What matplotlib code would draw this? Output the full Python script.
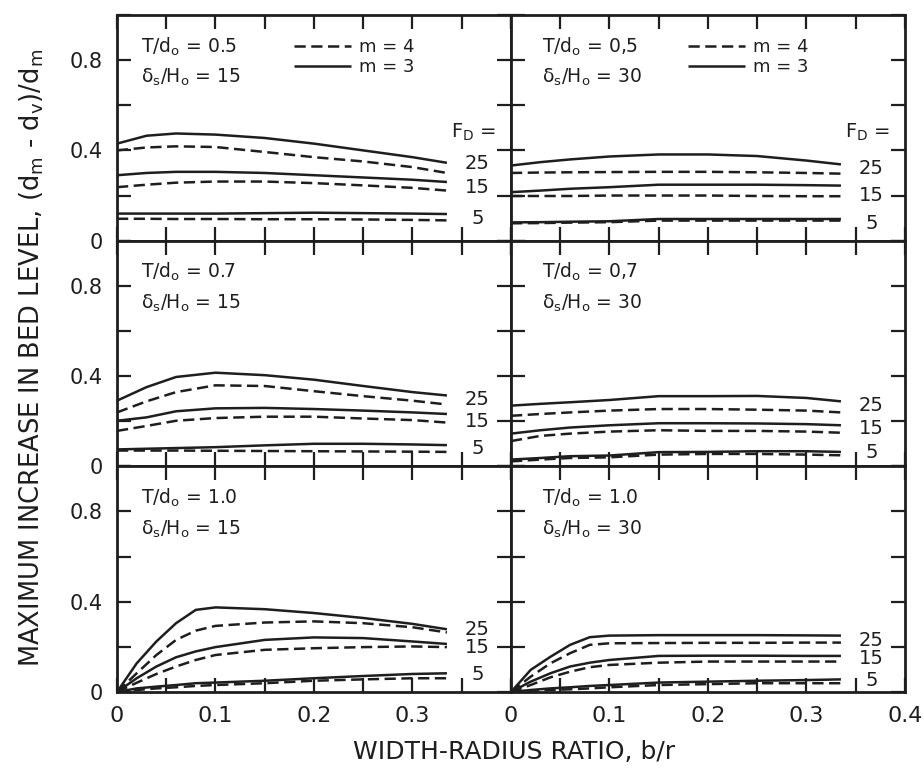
import matplotlib.pyplot as plt
from matplotlib.gridspec import GridSpec

# b/r positions where the curves were read
x_flat = [0, 0.03, 0.06, 0.1, 0.15, 0.2, 0.25, 0.3, 0.335]
x_rise = [0, 0.02, 0.04, 0.06, 0.08, 0.1, 0.15, 0.2, 0.25, 0.3, 0.335]

# T/d0 = 0.5, delta_s/H0 = 15
t05_d15_m3_f25 = [0.43, 0.465, 0.475, 0.47, 0.455, 0.43, 0.40, 0.37, 0.345]
t05_d15_m4_f25 = [0.40, 0.413, 0.418, 0.415, 0.393, 0.37, 0.351, 0.326, 0.30]
t05_d15_m3_f15 = [0.29, 0.30, 0.305, 0.305, 0.30, 0.29, 0.28, 0.27, 0.26]
t05_d15_m4_f15 = [0.237, 0.248, 0.257, 0.262, 0.262, 0.255, 0.245, 0.234, 0.222]
t05_d15_m3_f5 = [0.12, 0.12, 0.12, 0.12, 0.122, 0.124, 0.122, 0.12, 0.118]
t05_d15_m4_f5 = [0.097, 0.097, 0.096, 0.096, 0.095, 0.095, 0.094, 0.092, 0.09]

# T/d0 = 0.5, delta_s/H0 = 30
t05_d30_m3_f25 = [0.333, 0.348, 0.36, 0.373, 0.382, 0.382, 0.375, 0.355, 0.338]
t05_d30_m4_f25 = [0.30, 0.302, 0.303, 0.304, 0.305, 0.305, 0.303, 0.30, 0.297]
t05_d30_m3_f15 = [0.215, 0.222, 0.23, 0.237, 0.248, 0.248, 0.248, 0.246, 0.244]
t05_d30_m4_f15 = [0.198, 0.198, 0.198, 0.20, 0.20, 0.20, 0.198, 0.197, 0.197]
t05_d30_m3_f5 = [0.081, 0.082, 0.084, 0.086, 0.096, 0.096, 0.096, 0.096, 0.096]
t05_d30_m4_f5 = [0.077, 0.078, 0.08, 0.082, 0.089, 0.089, 0.089, 0.089, 0.089]

# T/d0 = 0.7, delta_s/H0 = 15
t07_d15_m3_f25 = [0.291, 0.351, 0.396, 0.415, 0.404, 0.384, 0.356, 0.329, 0.314]
t07_d15_m4_f25 = [0.239, 0.288, 0.329, 0.359, 0.356, 0.333, 0.311, 0.291, 0.274]
t07_d15_m3_f15 = [0.202, 0.217, 0.244, 0.257, 0.259, 0.254, 0.247, 0.239, 0.232]
t07_d15_m4_f15 = [0.157, 0.179, 0.202, 0.214, 0.22, 0.22, 0.212, 0.205, 0.194]
t07_d15_m3_f5 = [0.075, 0.078, 0.081, 0.085, 0.093, 0.10, 0.10, 0.097, 0.094]
t07_d15_m4_f5 = [0.07, 0.07, 0.07, 0.069, 0.068, 0.067, 0.066, 0.065, 0.064]

# T/d0 = 0.7, delta_s/H0 = 30
t07_d30_m3_f25 = [0.269, 0.277, 0.284, 0.294, 0.311, 0.311, 0.312, 0.303, 0.288]
t07_d30_m4_f25 = [0.224, 0.232, 0.239, 0.247, 0.254, 0.254, 0.251, 0.247, 0.239]
t07_d30_m3_f15 = [0.145, 0.16, 0.172, 0.182, 0.191, 0.191, 0.19, 0.187, 0.182]
t07_d30_m4_f15 = [0.112, 0.135, 0.145, 0.154, 0.16, 0.157, 0.157, 0.154, 0.149]
t07_d30_m3_f5 = [0.03, 0.037, 0.045, 0.048, 0.063, 0.064, 0.067, 0.067, 0.064]
t07_d30_m4_f5 = [0.022, 0.03, 0.037, 0.04, 0.052, 0.055, 0.055, 0.052, 0.049]

# T/d0 = 1.0, delta_s/H0 = 15
t10_d15_m3_f25 = [0.0, 0.127, 0.224, 0.305, 0.364, 0.375, 0.367, 0.35, 0.328, 0.302, 0.278]
t10_d15_m4_f25 = [0.0, 0.083, 0.164, 0.231, 0.272, 0.293, 0.308, 0.313, 0.305, 0.287, 0.264]
t10_d15_m3_f15 = [0.0, 0.061, 0.113, 0.154, 0.18, 0.199, 0.231, 0.242, 0.239, 0.224, 0.213]
t10_d15_m4_f15 = [0.0, 0.041, 0.08, 0.113, 0.142, 0.164, 0.187, 0.194, 0.199, 0.202, 0.199]
t10_d15_m3_f5 = [0.0, 0.016, 0.024, 0.031, 0.039, 0.042, 0.05, 0.061, 0.071, 0.08, 0.083]
t10_d15_m4_f5 = [0.0, 0.009, 0.016, 0.021, 0.027, 0.031, 0.039, 0.05, 0.056, 0.061, 0.061]

# T/d0 = 1.0, delta_s/H0 = 30
t10_d30_m3_f25 = [0.0, 0.098, 0.156, 0.209, 0.243, 0.25, 0.252, 0.252, 0.252, 0.251, 0.25]
t10_d30_m4_f25 = [0.0, 0.068, 0.127, 0.172, 0.209, 0.216, 0.217, 0.218, 0.218, 0.219, 0.219]
t10_d30_m3_f15 = [0.0, 0.046, 0.083, 0.113, 0.13, 0.142, 0.16, 0.161, 0.161, 0.16, 0.16]
t10_d30_m4_f15 = [0.0, 0.031, 0.065, 0.09, 0.11, 0.12, 0.13, 0.135, 0.135, 0.135, 0.135]
t10_d30_m3_f5 = [0.0, 0.009, 0.016, 0.021, 0.027, 0.031, 0.042, 0.046, 0.05, 0.053, 0.056]
t10_d30_m4_f5 = [0.0, 0.006, 0.009, 0.012, 0.016, 0.021, 0.031, 0.035, 0.039, 0.039, 0.039]

froude = ["25", "15", "5"]
t_ratio = ["0.5", "0,5", "0.7", "0,7", "1.0", "1.0"]
delta_ratio = ["15", "30", "15", "30", "15", "30"]

x_ticks = [0, 0.05, 0.1, 0.15, 0.2, 0.25, 0.3, 0.35, 0.4]
x_labels_left = ["0", "", "0.1", "", "0.2", "", "0.3", "", ""]
x_labels_right = ["0", "", "0.1", "", "0.2", "", "0.3", "", "0.4"]
y_ticks = [0, 0.2, 0.4, 0.6, 0.8, 1.0]
y_labels = ["0", "", "0.4", "", "0.8", ""]

panels = [
    (x_flat, [t05_d15_m3_f25, t05_d15_m3_f15, t05_d15_m3_f5],
             [t05_d15_m4_f25, t05_d15_m4_f15, t05_d15_m4_f5]),
    (x_flat, [t05_d30_m3_f25, t05_d30_m3_f15, t05_d30_m3_f5],
             [t05_d30_m4_f25, t05_d30_m4_f15, t05_d30_m4_f5]),
    (x_flat, [t07_d15_m3_f25, t07_d15_m3_f15, t07_d15_m3_f5],
             [t07_d15_m4_f25, t07_d15_m4_f15, t07_d15_m4_f5]),
    (x_flat, [t07_d30_m3_f25, t07_d30_m3_f15, t07_d30_m3_f5],
             [t07_d30_m4_f25, t07_d30_m4_f15, t07_d30_m4_f5]),
    (x_rise, [t10_d15_m3_f25, t10_d15_m3_f15, t10_d15_m3_f5],
             [t10_d15_m4_f25, t10_d15_m4_f15, t10_d15_m4_f5]),
    (x_rise, [t10_d30_m3_f25, t10_d30_m3_f15, t10_d30_m3_f5],
             [t10_d30_m4_f25, t10_d30_m4_f15, t10_d30_m4_f5]),
]

# heights of the F_D labels beside the curve ends
label_y = [
    [0.34, 0.235, 0.10],
    [0.32, 0.20, 0.076],
    [0.296, 0.20, 0.08],
    [0.27, 0.166, 0.06],
    [0.275, 0.196, 0.076],
    [0.23, 0.147, 0.053],
]

ink = "#1e1e1e"

plt.rcParams.update({
    "font.family": "DejaVu Sans",
    "mathtext.default": "regular",
    "axes.linewidth": 2.0,
    "axes.edgecolor": ink,
    "text.color": ink,
    "xtick.color": ink,
    "ytick.color": ink,
})

fig = plt.figure(figsize=(9.24, 7.69), dpi=100)
gs = GridSpec(3, 2, figure=fig, left=0.1266, right=0.9794, top=0.9805,
              bottom=0.1001, wspace=0, hspace=0)

for i, (xs, solid, dashed) in enumerate(panels):
    row, col = divmod(i, 2)
    ax = fig.add_subplot(gs[row, col])
    h3 = h4 = None
    for ys in solid:
        h3, = ax.plot(xs, ys, color=ink, lw=1.8, solid_capstyle="butt")
    for ys in dashed:
        h4, = ax.plot(xs, ys, color=ink, lw=1.8, dashes=(4.5, 2.2))

    for lab, yl in zip(froude, label_y[i]):
        ax.text(0.366, yl, lab, ha="center", va="center", fontsize=14)

    ax.text(0.062 if col == 0 else 0.078, 0.86, "T/d$_o$ = " + t_ratio[i],
            transform=ax.transAxes, fontsize=13.5, va="center")
    ax.text(0.062 if col == 0 else 0.078, 0.722, "δ$_s$/H$_o$ = " + delta_ratio[i],
            transform=ax.transAxes, fontsize=13.5, va="center")

    if row == 0:
        ax.legend([h4, h3], ["m = 4", "m = 3"], loc="upper left",
                  bbox_to_anchor=(0.43, 0.93), frameon=False, fontsize=13,
                  handlelength=3.2, handletextpad=0.4, labelspacing=0.12,
                  borderaxespad=0)
        ax.text(0.362, 0.48, "F$_D$ =", ha="center", va="center", fontsize=14)

    ax.set_xlim(0, 0.4)
    ax.set_ylim(0, 1.0)
    ax.set_xticks(x_ticks)
    ax.set_yticks(y_ticks)
    if row == 2:
        ax.set_xticklabels(x_labels_left if col == 0 else x_labels_right, fontsize=16)
    else:
        ax.set_xticklabels([])
    if col == 0:
        ax.set_yticklabels(y_labels, fontsize=15)
    else:
        ax.set_yticklabels([])
    ax.tick_params(direction="in", top=True, right=True, length=10, width=1.6)
    ax.tick_params(axis="x", pad=10)
    ax.tick_params(axis="y", pad=10)

fig.text(0.556, 0.022, "WIDTH-RADIUS RATIO, b/r", ha="center", va="center",
         fontsize=18)
fig.text(0.034, 0.535,
         "MAXIMUM INCREASE IN BED LEVEL, (d$_m$ - d$_v$)/d$_m$",
         rotation=90, ha="center", va="center", fontsize=18.5)

fig.savefig("out.png", dpi=100)
plt.close(fig)
